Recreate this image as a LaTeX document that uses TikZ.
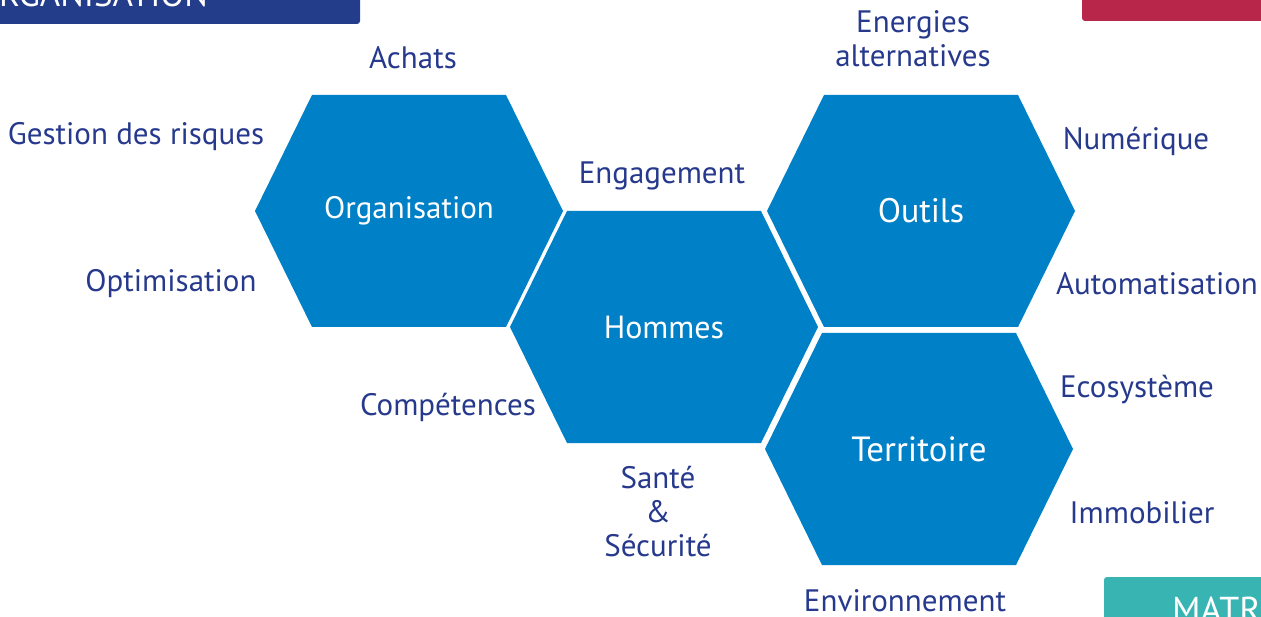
\documentclass[tikz,border=0pt]{standalone}
\usepackage{fontspec}
\setmainfont{PT Sans}
\usepackage{tikz}
\definecolor{hexblue}{RGB}{0,128,198}
\definecolor{navy}{RGB}{38,57,140}
\definecolor{bannerblue}{RGB}{35,61,138}
\definecolor{crimson}{RGB}{184,38,74}
\definecolor{tealbox}{RGB}{56,181,178}

\begin{document}
\begin{tikzpicture}[x=1pt,y=-1pt,
	hexa/.style={fill=hexblue},
	hexlabel/.style={text=white, font=\fontsize{#1}{36}\selectfont},
	item/.style={text=navy, font=\fontsize{31}{34}\selectfont, align=center}]
\useasboundingbox (0,0) rectangle (1261,617);
\clip (0,0) rectangle (1261,617);
% bandeaux
\fill[bannerblue, rounded corners=3pt] (-10,-10) rectangle (360,24);
\node[anchor=base west, inner sep=0, text=white, font=\fontsize{35}{38}\selectfont] (titre) at (-1,7) {RGANISATION};
\fill[crimson, rounded corners=3pt] (1082,-10) rectangle (1280,21);
\fill[tealbox, rounded corners=3pt] (1104,577) rectangle (1280,640);
\node[anchor=north west, inner sep=0, text=white, font=\fontsize{36}{38}\selectfont] (matr) at (1172,597) {MATR};
% hexagones
\foreach \cx/\cy/\name/\label/\size in {409/211/orga/Organisation/31, 664/327/hommes/Hommes/32,
		921/211/outils/Outils/34, 919/449/terr/Territoire/35}
{
	\fill[hexa] (\cx-154,\cy) -- ++(57,-116) -- ++(194,0) -- ++(57,116)
		-- ++(-57,116) -- ++(-194,0) -- cycle;
	\node[hexlabel=\size] (\name) at (\cx,\cy) {\label};
}
% themes
\node[item] (achats) at (413,58) {Achats};
\node[item] (risques) at (136,137) {Gestion des risques};
\node[item] (optim) at (171,284) {Optimisation};
\node[item] (engag) at (662,176) {Engagement};
\node[item] (compet) at (448,407) {Compétences};
\node[item] (sante) at (658,512) {Santé\\\&\\Sécurité};
\node[item] (energies) at (913,39) {Energies\\alternatives};
\node[item] (numer) at (1136,141) {Numérique};
\node[item] (auto) at (1157,284) {Automatisation};
\node[item] (ecosys) at (1137,390) {Ecosystème};
\node[item] (immo) at (1142,513) {Immobilier};
\node[item] (envir) at (905,601) {Environnement};
\end{tikzpicture}
\end{document}
